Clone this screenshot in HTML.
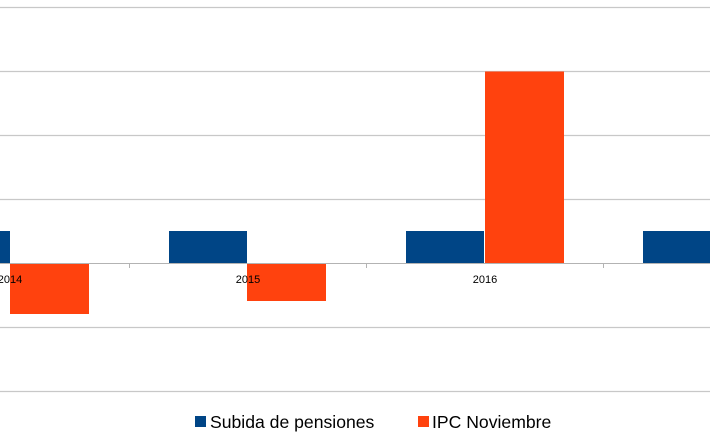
<!DOCTYPE html>
<html><head><style>
html,body{margin:0;padding:0;background:#fff;width:710px;height:434px;overflow:hidden}
</style></head><body>
<svg width="710" height="434" xmlns="http://www.w3.org/2000/svg" font-family="Liberation Sans, sans-serif">
<g stroke="#c8c8c8" stroke-width="1.2">
<line x1="0" y1="7.5" x2="710" y2="7.5"/>
<line x1="0" y1="71.5" x2="710" y2="71.5"/>
<line x1="0" y1="135.5" x2="710" y2="135.5"/>
<line x1="0" y1="199.5" x2="710" y2="199.5"/>
<line x1="0" y1="327.5" x2="710" y2="327.5"/>
<line x1="0" y1="391.5" x2="710" y2="391.5"/>
</g>
<g fill="#004586">
<rect x="0" y="231" width="10" height="33"/>
<rect x="169" y="231" width="78" height="33"/>
<rect x="406" y="231" width="78" height="33"/>
<rect x="643" y="231" width="67" height="33"/>
</g>
<g fill="#ff420e">
<rect x="10" y="264" width="79" height="50"/>
<rect x="247" y="264" width="79" height="37"/>
<rect x="485" y="71.5" width="79" height="192.5"/>
</g>
<g stroke="#b3b3b3" stroke-width="1">
<line x1="0" y1="263.5" x2="710" y2="263.5"/>
<line x1="129.5" y1="263.5" x2="129.5" y2="268"/>
<line x1="366.5" y1="263.5" x2="366.5" y2="268"/>
<line x1="603.5" y1="263.5" x2="603.5" y2="268"/>
</g>
<g font-size="11" fill="#000" text-anchor="middle">
<text x="10" y="283">2014</text>
<text x="248" y="283">2015</text>
<text x="485" y="283">2016</text>
</g>
<rect x="195" y="416" width="11" height="11" fill="#004586"/>
<text x="210" y="428" font-size="17.6">Subida de pensiones</text>
<rect x="418" y="416" width="11" height="11" fill="#ff420e"/>
<text x="432" y="428" font-size="17.6">IPC Noviembre</text>
</svg>
</body></html>
